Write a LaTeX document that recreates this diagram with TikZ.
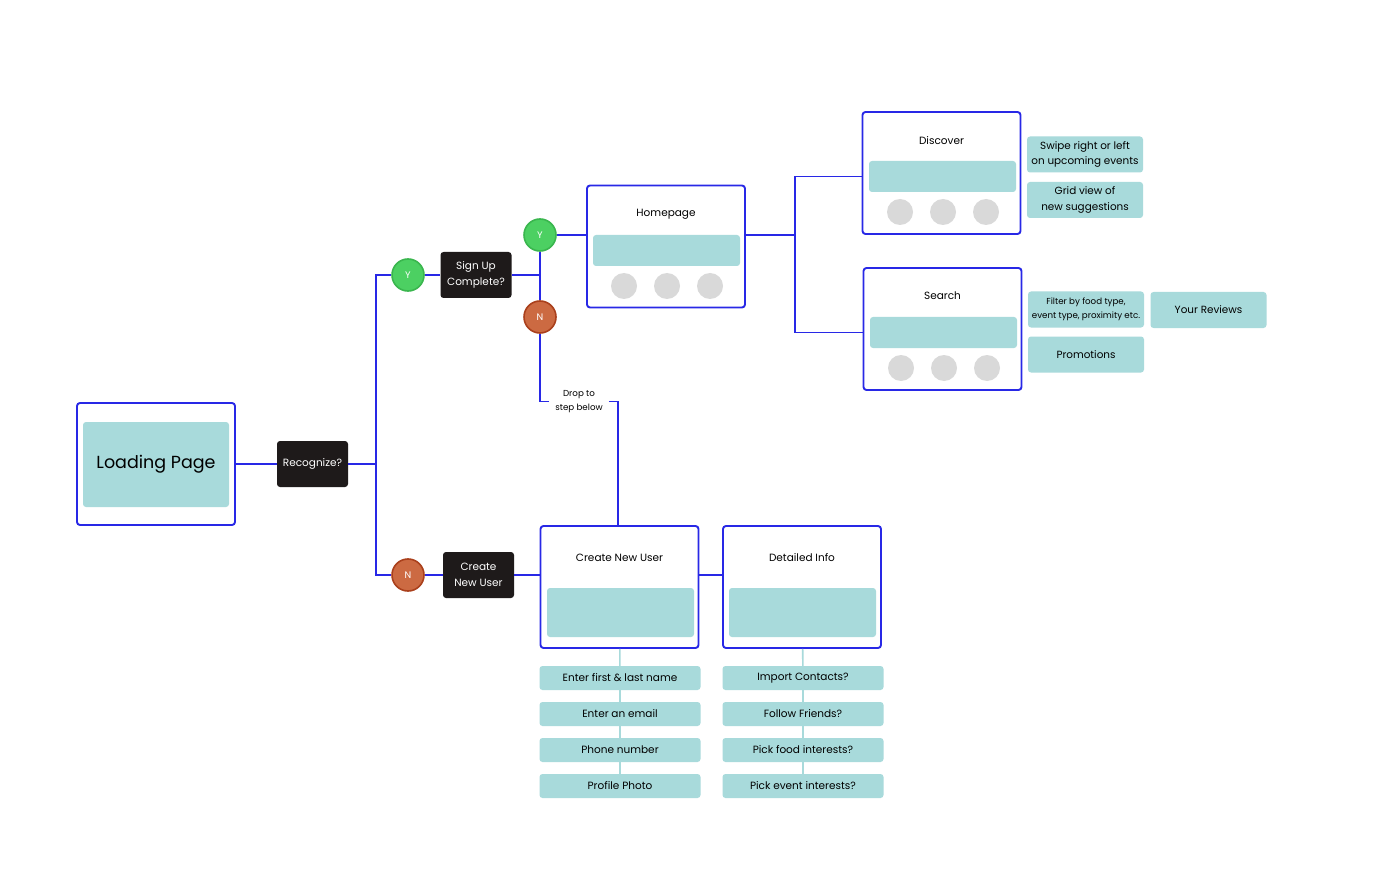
\documentclass[tikz,border=0pt]{standalone}
\usepackage{fontspec}
\setmainfont{Poppins}
\usetikzlibrary{shapes,arrows}

\definecolor{flowblue}{RGB}{40,40,230}
\definecolor{screenteal}{RGB}{168,218,219}
\definecolor{askblack}{RGB}{30,26,26}
\definecolor{yesgreen}{RGB}{76,208,98}
\definecolor{yesrim}{RGB}{58,182,78}
\definecolor{noorange}{RGB}{204,106,66}
\definecolor{norim}{RGB}{170,64,28}
\definecolor{dotgrey}{RGB}{217,217,217}

\tikzset{
  screen/.style={draw=flowblue,line width=1.9pt,rounded corners=3pt,fill=white,
    minimum width=158pt,minimum height=122pt,inner sep=0pt},
  panel/.style={fill=screenteal,rounded corners=3pt,inner sep=0pt,
    minimum width=147pt,minimum height=31pt},
  title/.style={font=\fontsize{10.5}{12}\selectfont,inner sep=0pt},
  ask/.style={fill=askblack,rounded corners=3pt,text=white,align=center,
    minimum width=71pt,minimum height=46pt,inner sep=0pt,
    font=\fontsize{10.5}{16}\selectfont},
  yes/.style={circle,fill=yesgreen,draw=yesrim,line width=1.6pt,minimum size=32pt,
    inner sep=0pt,text=white,font=\fontsize{9.5}{9.5}\selectfont},
  no/.style={circle,fill=noorange,draw=norim,line width=1.6pt,minimum size=32pt,
    inner sep=0pt,text=white,font=\fontsize{9.5}{9.5}\selectfont},
  dot/.style={circle,fill=dotgrey,minimum size=26pt,inner sep=0pt},
  note/.style={fill=screenteal,rounded corners=3pt,align=center,inner sep=0pt,
    minimum width=116pt,minimum height=36pt,font=\fontsize{10.4}{15.5}\selectfont},
  item/.style={fill=screenteal,rounded corners=3pt,inner sep=0pt,
    minimum width=161pt,minimum height=24pt,font=\fontsize{10.5}{12}\selectfont},
  link/.style={draw=flowblue,line width=1.9pt},
  thread/.style={draw=screenteal,line width=1.6pt}
}

\begin{document}
\begin{tikzpicture}[x=1pt,y=-1pt]
  \useasboundingbox[fill=white] (0,0) rectangle (1400,885);

  % loading page and first question
  \node[screen] (load) at (156,464) {};
  \node[panel,minimum width=146pt,minimum height=85pt] (loadpanel) at (156,464.5)
    {\fontsize{17.5}{18}\selectfont Loading Page};
  \node[ask] (rec) at (312.5,464) {Recognize?};

  \node[yes] (y1) at (408,275) {Y};
  \node[no] (n1) at (408,575) {N};
  \node[ask] (signup) at (476,275) {Sign Up\\Complete?};
  \node[ask] (create) at (478.5,575) {Create\\New User};

  \node[yes] (y2) at (540,235) {Y};
  \node[no] (n2) at (540,317) {N};

  % homepage
  \node[screen] (home) at (666,246.5) {};
  \node[title] at (666,214.5) {Homepage};
  \node[panel] (homepanel) at (666.5,250.5) {};
  \node[dot] (hd1) at (624,286) {};
  \node[dot] (hd2) at (667,286) {};
  \node[dot] (hd3) at (710,286) {};

  % discover
  \node[screen] (disc) at (941.5,173) {};
  \node[title] at (941.5,140.5) {Discover};
  \node[panel] (discpanel) at (942.5,176.5) {};
  \node[dot] (dd1) at (900,212) {};
  \node[dot] (dd2) at (943,212) {};
  \node[dot] (dd3) at (986,212) {};

  % search
  \node[screen] (srch) at (942.5,329) {};
  \node[title] at (942.5,295.5) {Search};
  \node[panel] (srchpanel) at (943.5,332.5) {};
  \node[dot] (sd1) at (901,368) {};
  \node[dot] (sd2) at (944,368) {};
  \node[dot] (sd3) at (987,368) {};

  \node[note] (swipe) at (1085,154.5) {Swipe right or left\\on upcoming events};
  \node[note] (grid) at (1085,200) {Grid view of\\new suggestions};
  \node[note,font=\fontsize{8.7}{13.5}\selectfont] (filter) at (1086,309.5)
    {Filter by food type,\\event type, proximity etc.};
  \node[note] (reviews) at (1208.5,310) {Your Reviews};
  \node[note] (promo) at (1086,354.5) {Promotions};

  % sign up screens
  \node[screen] (newuser) at (619.5,587) {};
  \node[title] at (619.5,557.5) {Create New User};
  \node[panel,minimum height=49pt] (newpanel) at (620.5,612.5) {};
  \node[screen] (detail) at (802,587) {};
  \node[title] at (802,557.5) {Detailed Info};
  \node[panel,minimum height=49pt] (detpanel) at (802.5,612.5) {};

  \node[item] (f1) at (620,678) {Enter first \& last name};
  \node[item] (f2) at (620,714) {Enter an email};
  \node[item] (f3) at (620,750) {Phone number};
  \node[item] (f4) at (620,786) {Profile Photo};
  \node[item] (d1) at (803,678) {Import Contacts?};
  \node[item] (d2) at (803,714) {Follow Friends?};
  \node[item] (d3) at (803,750) {Pick food interests?};
  \node[item] (d4) at (803,786) {Pick event interests?};

  \node[inner xsep=6pt,align=center,font=\fontsize{8.7}{13.5}\selectfont] (drop)
    at (579,401.5) {Drop to\\step below};

  % connectors
  \coordinate (fork1) at (376,464);
  \coordinate (fork2) at (540,275);
  \coordinate (fork3) at (795,235);
  \coordinate (dropin) at (618,526);
  \draw[link] (load) -- (rec);
  \draw[link] (rec) -- (fork1);
  \draw[link] (fork1) |- (y1);
  \draw[link] (fork1) |- (n1);
  \draw[link] (y1) -- (signup);
  \draw[link] (signup) -- (fork2);
  \draw[link] (y2) -- (n2);
  \draw[link] (y2) -- (y2 -| home.west);
  \draw[link] (y2 -| home.east) -- (fork3);
  \draw[link] (fork3) |- (discpanel -| disc.west);
  \draw[link] (fork3) |- (srchpanel -| srch.west);
  \draw[link] (n2) |- (drop.west);
  \draw[link] (drop.east) -| (dropin);
  \draw[link] (n1) -- (create);
  \draw[link] (create) -- (create -| newuser.west);
  \draw[link] (create -| newuser.east) -- (create -| detail.west);

  \draw[thread] (newuser) -- (f1);
  \draw[thread] (f1) -- (f2);
  \draw[thread] (f2) -- (f3);
  \draw[thread] (f3) -- (f4);
  \draw[thread] (detail) -- (d1);
  \draw[thread] (d1) -- (d2);
  \draw[thread] (d2) -- (d3);
  \draw[thread] (d3) -- (d4);
\end{tikzpicture}
\end{document}
